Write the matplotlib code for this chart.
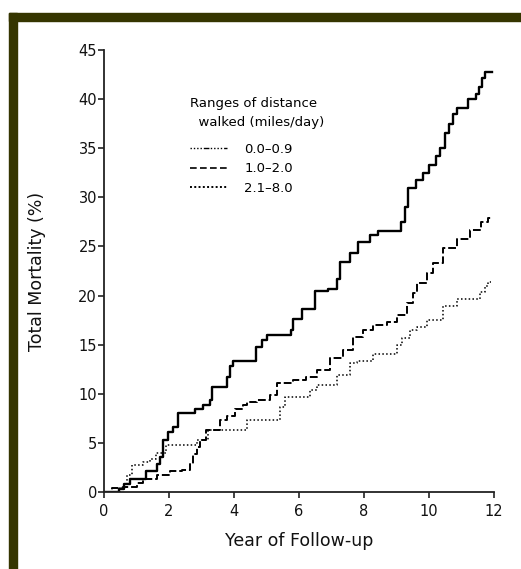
import matplotlib
matplotlib.use("Agg")
import matplotlib.pyplot as plt
from matplotlib.lines import Line2D
from matplotlib.patches import Rectangle

plt.rcParams['font.family'] = ['DejaVu Sans']

# Kaplan-Meier style step curves: year of follow-up -> cumulative mortality (%)
t_low = [0, 0.45, 0.6, 0.8, 1.3, 1.62, 1.72, 1.83, 1.98, 2.13, 2.29, 2.8, 3.06, 3.26,
         3.31, 3.77, 3.88, 3.98, 4.68, 4.85, 5.0, 5.75, 5.83, 6.08, 6.49, 6.89, 7.16,
         7.26, 7.57, 7.82, 8.18, 8.44, 9.15, 9.25, 9.35, 9.6, 9.8, 10.0, 10.2, 10.35,
         10.5, 10.6, 10.75, 10.85, 11.2, 11.45, 11.55, 11.62, 11.72, 11.95]
m_low = [0, 0.3, 0.8, 1.3, 2.1, 2.9, 3.6, 5.3, 6.1, 6.6, 8.0, 8.5, 8.9, 9.4,
         10.7, 11.7, 12.8, 13.3, 14.8, 15.5, 16.0, 16.5, 17.6, 18.6, 20.5, 20.7, 21.7,
         23.4, 24.3, 25.5, 26.2, 26.6, 27.5, 29.0, 31.0, 31.8, 32.5, 33.3, 34.2, 35.0,
         36.5, 37.5, 38.5, 39.1, 40.0, 40.5, 41.2, 42.2, 42.8, 42.8]

t_mid = [0, 0.25, 0.6, 1.0, 1.2, 1.62, 2.03, 2.39, 2.65, 2.75, 2.85, 2.95, 3.15, 3.57,
         3.77, 4.03, 4.28, 4.39, 4.7, 5.1, 5.31, 5.83, 6.23, 6.54, 6.95, 7.36, 7.67,
         7.98, 8.29, 8.7, 9.0, 9.32, 9.5, 9.62, 9.93, 10.13, 10.44, 10.85, 11.26, 11.6,
         11.8, 11.95]
m_mid = [0, 0.4, 0.5, 0.9, 1.3, 1.7, 2.1, 2.2, 2.9, 3.9, 4.6, 5.3, 6.3, 7.3,
         7.7, 8.4, 8.9, 9.2, 9.4, 9.9, 11.1, 11.4, 11.7, 12.4, 13.6, 14.5, 15.8,
         16.5, 17.0, 17.3, 18.0, 19.2, 20.3, 21.3, 22.3, 23.3, 24.8, 25.8, 26.7, 27.5,
         27.9, 27.9]

t_high = [0, 0.5, 0.7, 0.85, 1.2, 1.42, 1.6, 1.9, 2.85, 3.2, 4.39, 5.42, 5.57, 6.34,
          6.54, 7.16, 7.57, 7.78, 8.29, 9.0, 9.16, 9.42, 9.62, 9.93, 10.44, 10.85,
          11.57, 11.72, 11.82, 11.9]
m_high = [0, 0.5, 1.7, 2.7, 3.1, 3.4, 4.0, 4.8, 5.3, 6.3, 7.3, 8.7, 9.7, 10.4,
          10.9, 11.9, 13.1, 13.3, 14.1, 15.0, 15.7, 16.5, 16.8, 17.5, 18.9, 19.6,
          20.4, 21.0, 21.4, 21.4]

labels = ['0.0\u20130.9', '1.0\u20132.0', '2.1\u20138.0']

fig = plt.figure(figsize=(5.21, 5.69), dpi=100)
ax = fig.add_axes([104 / 521, 1 - 492 / 569, 390 / 521, 442 / 569])

ax.step(t_low, m_low, where='post', color='black', lw=1.7)
ax.step(t_mid, m_mid, where='post', color='black', lw=1.4, linestyle=(0, (4, 1.5)))
ax.step(t_high, m_high, where='post', color='black', lw=1.1, linestyle=(0, (1, 1.5)))

ax.set_xlim(0, 12)
ax.set_ylim(0, 45)
ax.set_xticks(range(0, 13, 2))
ax.set_yticks(range(0, 46, 5))
ax.spines['top'].set_visible(False)
ax.spines['right'].set_visible(False)
for s in ('left', 'bottom'):
    ax.spines[s].set_linewidth(1.3)
    ax.spines[s].set_color('#222222')
ax.tick_params(direction='out', length=4, width=1.2, labelsize=10.5, colors='#222222')
ax.tick_params(labelcolor='#111111')
ax.tick_params(axis='x', pad=5)
ax.tick_params(axis='y', pad=1)
ax.set_xlabel('Year of Follow-up', fontsize=12.5, labelpad=9, color='#111111')
ax.set_ylabel('Total Mortality (%)', fontsize=12.5, labelpad=23, color='#111111')

handles = [
    Line2D([], [], color='black', lw=1.0, linestyle=(0, (1, 1.4, 1, 1.4, 1, 1.4, 1, 1.4, 4, 1))),
    Line2D([], [], color='black', lw=1.2, linestyle=(0, (4, 2))),
    Line2D([], [], color='black', lw=1.4, linestyle=(0, (1, 1.2))),
]
leg = ax.legend(handles, labels, title='Ranges of distance\n  walked (miles/day)',
                loc='upper left', bbox_to_anchor=(0.19, 0.92), frameon=False,
                fontsize=9.5, title_fontsize=9.5, handlelength=2.8, handletextpad=1.3,
                labelspacing=0.5)
leg.get_title().set_linespacing(1.55)
leg._legend_box.align = 'left'
leg._legend_box.sep = 10

# dark border strips of the original figure panel
border = '#353500'
fig.patches.append(Rectangle((9 / 521, 1 - 21 / 569), 512 / 521, 8 / 569,
                             transform=fig.transFigure, color=border, zorder=0))
fig.patches.append(Rectangle((9 / 521, 0), 8 / 521, 1 - 13 / 569,
                             transform=fig.transFigure, color=border, zorder=0))

fig.savefig('out.png', dpi=100)
